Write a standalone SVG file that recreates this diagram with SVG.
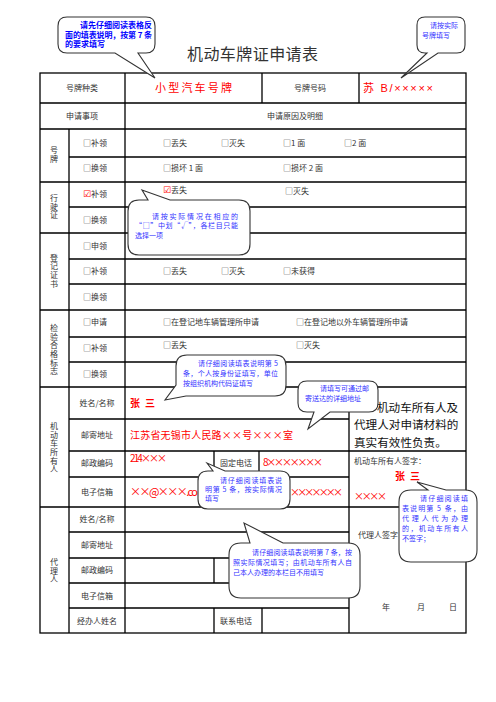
<svg xmlns="http://www.w3.org/2000/svg" width="496" height="702" viewBox="0 0 496 702">
<style>
.ln{stroke:#000;stroke-width:1.3;fill:none}
.t{font-family:"Noto Sans CJK SC","Liberation Serif",sans-serif;font-size:8px;fill:#333}
.c{text-anchor:middle}
.v{writing-mode:vertical-rl;text-anchor:middle;letter-spacing:0.7px}
.hw{font-family:"Noto Sans CJK SC",sans-serif;fill:#ff0000}
.big{font-family:"Noto Sans CJK SC",sans-serif;font-size:11.6px;fill:#111}
.co{fill:#fff;stroke:#333;stroke-width:1.1}
.ct{font-family:"Noto Sans CJK SC",sans-serif;font-size:7px;fill:#3333ff}
.cb{font-family:"Noto Sans CJK SC",sans-serif;font-size:8px;font-weight:bold;fill:#0000ff}
.chk{font-family:"DejaVu Sans",sans-serif;fill:#ff0000;font-size:9px}
</style>
<rect width="496" height="702" fill="#fff"/>
<text id="title" x="187" y="60" font-family="Noto Sans CJK SC,sans-serif" font-size="16" fill="#333" textLength="131">机动车牌证申请表</text>

<g id="table-grid">
<rect x="40" y="73" width="426" height="560" class="ln"/>
<path class="ln" d="M40,103H466 M40,129H466 M69,157H466 M40,182H466 M69,207H466 M40,233H466 M69,259H466 M69,284H466 M40,310H466 M69,337H466 M69,362H466 M40,387H466 M69,419H349 M69,451H466 M69,477H349 M40,507H466 M69,532H349 M69,558H349 M69,583H349 M69,608H349"/>
<path class="ln" d="M69,129V633 M125,73V633 M262,73V103 M359,73V103 M349,387V633 M214,451V507 M259,451V507 M214,558V583 M262,558V583 M214,608V633 M262,608V633"/>
</g>

<g id="header-labels" class="t">
<text class="c" x="82" y="91">号牌种类</text>
<text class="c" x="310" y="91">号牌号码</text>
<text class="c" x="82" y="119">申请事项</text>
<text class="c" x="295" y="119">申请原因及明细</text>
</g>

<g id="group-labels" class="t">
<text class="v" x="54" y="155">号牌</text>
<text class="v" x="54" y="207">行驶证</text>
<text class="v" x="54" y="271">登记证书</text>
<text class="v" x="54" y="350">检验合格标志</text>
<text class="v" x="54" y="448">机动车所有人</text>
<text class="v" x="54" y="571">代理人</text>
</g>

<g id="plate-rows" class="t">
<text x="83" y="146">□补领</text>
<text x="163" y="146">□丢失</text><text x="221" y="146">□灭失</text><text x="283" y="146">□1 面</text><text x="344" y="146">□2 面</text>
<text x="83" y="171">□换领</text>
<text x="163" y="171">□损坏 1 面</text><text x="283" y="171">□损坏 2 面</text>
</g>

<g id="license-rows" class="t">
<text x="83" y="197"><tspan class="chk">☑</tspan>补领</text>
<text x="163" y="193"><tspan class="chk">☑</tspan>丢失</text>
<text x="285" y="194">□灭失</text>
<text x="83" y="223">□换领</text>
</g>

<g id="cert-rows" class="t">
<text x="83" y="249">□申领</text>
<text x="83" y="274">□补领</text>
<text x="163" y="274">□丢失</text><text x="221" y="274">□灭失</text><text x="283" y="274">□未获得</text>
<text x="83" y="300">□换领</text>
</g>

<g id="inspection-rows" class="t">
<text x="83" y="325">□申请</text>
<text x="163" y="325">□在登记地车辆管理所申请</text><text x="296" y="325">□在登记地以外车辆管理所申请</text>
<text x="83" y="351">□补领</text>
<text x="163" y="348">□丢失</text><text x="296" y="348">□灭失</text>
<text x="83" y="377">□换领</text>
</g>

<g id="owner-rows" class="t c">
<text x="97" y="406">姓名/名称</text>
<text x="97" y="438">邮寄地址</text>
<text x="97" y="466">邮政编码</text>
<text x="236" y="466">固定电话</text>
<text x="97" y="495">电子信箱</text>
</g>

<g id="agent-rows" class="t c">
<text x="97" y="522">姓名/名称</text>
<text x="97" y="548">邮寄地址</text>
<text x="97" y="573">邮政编码</text>
<text x="97" y="599">电子信箱</text>
<text x="97" y="624">经办人姓名</text>
<text x="236" y="624">联系电话</text>
</g>

<g id="filled-values" class="hw">
<text x="155" y="92" font-size="11" textLength="77" lengthAdjust="spacing">小型汽车号牌</text>
<text x="363" y="92" font-size="11" textLength="70" lengthAdjust="spacing" font-family="Liberation Sans,Noto Sans CJK SC,sans-serif">苏 B/×××××</text>
<text x="130" y="407" font-size="10" font-weight="bold" textLength="25" lengthAdjust="spacing">张 三</text>
<text x="130" y="439" font-size="10" textLength="163" lengthAdjust="spacing">江苏省无锡市人民路××号×××室</text>
<text x="130" y="462" font-size="10" textLength="37" lengthAdjust="spacing">214×××</text>
<text x="263" y="466" font-size="10" textLength="60" lengthAdjust="spacing">8×××××××</text>
<text x="130" y="496" font-size="11" textLength="68" lengthAdjust="spacing">××@×××.co</text>
<text x="290" y="496" font-size="10" textLength="53" lengthAdjust="spacing">×××××××</text>
<text x="395" y="480" font-size="10" font-weight="bold" textLength="25" lengthAdjust="spacing">张 三</text>
<text x="354" y="500" font-size="10" textLength="33" lengthAdjust="spacing">××××</text>
</g>

<g id="statement">
<text class="big" x="377" y="411.5">机动车所有人及</text>
<text class="big" x="354" y="428.5">代理人对申请材料的</text>
<text class="big" x="354" y="446.5">真实有效性负责。</text>
<text class="t" x="354" y="464">机动车所有人签字：</text>
<text class="t" x="358" y="538">代理人签字</text>
<text class="t" x="382" y="610">年</text>
<text class="t" x="417" y="610">月</text>
<text class="t" x="449" y="610">日</text>
</g>

<g id="callout-read-first">
<path class="co" d="M67,17 H146 Q155,17 155,26 V44 Q155,53 146,53 H138 L155,78 L115,53 H67 Q58,53 58,44 V26 Q58,17 67,17 Z"/>
<text class="cb" x="80" y="28" textLength="72" lengthAdjust="spacing">请先仔细阅读表格反</text>
<text class="cb" x="65" y="37.5" textLength="87" lengthAdjust="spacing">面的填表说明，按第 7 条</text>
<text class="cb" x="65" y="47">的要求填写</text>
</g>

<g id="callout-plate-number">
<path class="co" d="M425,17 H457 Q465,17 465,25 V45 Q465,53 457,53 H438 L401,78 L427,53 H425 Q417,53 417,45 V25 Q417,17 425,17 Z"/>
<text class="ct" x="430" y="27.5">请按实际</text>
<text class="ct" x="422" y="37.5">号牌填写</text>
</g>

<g id="callout-checkbox">
<path class="co" d="M139,200 H148 L142,190 L170,200 H239 Q250,200 250,211 V244 Q250,255 239,255 H139 Q128,255 128,244 V211 Q128,200 139,200 Z"/>
<text class="ct" x="152" y="218.5" textLength="86" lengthAdjust="spacing">请按实际情况在相应的</text>
<text class="ct" x="135" y="228" textLength="103" lengthAdjust="spacing">“□”中划“√”，各栏目只能</text>
<text class="ct" x="135" y="238">选择一项</text>
</g>

<g id="callout-name">
<path class="co" d="M187,355 H275 Q286,355 286,366 V385 Q286,396 275,396 H186 L165,400 L176,385 V366 Q176,355 187,355 Z"/>
<text class="ct" x="198" y="365.5" textLength="80" lengthAdjust="spacing">请仔细阅读填表说明第 5</text>
<text class="ct" x="183" y="376" textLength="95" lengthAdjust="spacing">条，个人按身份证填写，单位</text>
<text class="ct" x="183" y="386">按组织机构代码证填写</text>
</g>

<g id="callout-address">
<path class="co" d="M307,381 H369 Q378,381 378,390 V403 Q378,412 369,412 H330 L308,429 L314,412 H307 Q298,412 298,403 V390 Q298,381 307,381 Z"/>
<text class="ct" x="320" y="391">请填写可通过邮</text>
<text class="ct" x="305" y="401">寄送达的详细地址</text>
</g>

<g id="callout-contact">
<path class="co" d="M208,471 H213 L207,463 L225,471 H280 Q290,471 290,481 V499 Q290,509 280,509 H208 Q198,509 198,499 V481 Q198,471 208,471 Z"/>
<text class="ct" x="220" y="483" textLength="62" lengthAdjust="spacing">请仔细阅读填表说</text>
<text class="ct" x="205" y="492" textLength="77" lengthAdjust="spacing">明第 5 条，按实际情况</text>
<text class="ct" x="205" y="501">填写</text>
</g>

<g id="callout-signature">
<path class="co" d="M411,490 H428 L417,482 L446,490 H465 Q477,490 477,502 V550 Q477,562 465,562 H411 Q399,562 399,550 V502 Q399,490 411,490 Z"/>
<text class="ct" x="420" y="501" textLength="48" lengthAdjust="spacing">请仔细阅读填</text>
<text class="ct" x="402" y="511" textLength="66" lengthAdjust="spacing">表说明第 5 条，由</text>
<text class="ct" x="402" y="521" textLength="66" lengthAdjust="spacing">代理人代为办理</text>
<text class="ct" x="402" y="531" textLength="66" lengthAdjust="spacing">的，机动车所有人</text>
<text class="ct" x="402" y="541">不签字；</text>
</g>

<g id="callout-agent">
<path class="co" d="M241,543 H250 L244,523 L283,543 H348 Q360,543 360,555 V586 Q360,598 348,598 H241 Q229,598 229,586 V555 Q229,543 241,543 Z"/>
<text class="ct" x="252" y="555" textLength="100" lengthAdjust="spacing">请仔细阅读填表说明第 7 条，按</text>
<text class="ct" x="233" y="565" textLength="119" lengthAdjust="spacing">照实际情况填写；由机动车所有人自</text>
<text class="ct" x="233" y="575">己本人办理的本栏目不用填写</text>
</g>
</svg>
